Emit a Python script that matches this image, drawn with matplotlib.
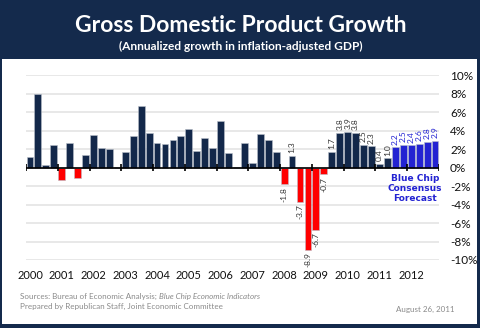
import matplotlib.pyplot as plt
from matplotlib.patches import Rectangle
import numpy as np

plt.rcParams['font.family'] = ['Lato', 'DejaVu Sans']

# quarterly real GDP growth, annualized (%), 2000Q1 - 2011Q2
actual = [1.1, 8.0, 0.3, 2.4,
          -1.3, 2.7, -1.1, 1.4,
          3.5, 2.1, 2.0, 0.1,
          1.7, 3.4, 6.7, 3.7,
          2.7, 2.6, 3.0, 3.4,
          4.2, 1.8, 3.2, 2.1,
          5.1, 1.6, 0.1, 2.7,
          0.5, 3.6, 3.0, 1.7,
          -1.8, 1.3, -3.7, -8.9,
          -6.7, -0.7, 1.7, 3.8,
          3.9, 3.8, 2.5, 2.3,
          0.4, 1.0]
# Blue Chip consensus, 2011Q3 - 2012Q4
forecast = [2.2, 2.5, 2.4, 2.6, 2.8, 2.9]
years = [str(y) for y in range(2000, 2013)]
first_labeled = 32   # values printed from 2008Q1 on

navy = '#13284a'
red = '#ff0000'
blue = '#2323d2'

fig = plt.figure(figsize=(4.81, 3.28), dpi=100)
fig.patch.set_facecolor('#142a4c')
fig.patches.append(Rectangle((2/481, 4/328), 475/481, 265/328, transform=fig.transFigure,
                             facecolor='white', edgecolor='none', zorder=-1))

fig.text(0.5, 1-25/328, 'Gross Domestic Product Growth', color='white', ha='center', va='center',
         fontsize=16.5, fontweight='bold')
fig.text(0.5, 1-46/328, '(Annualized growth in inflation-adjusted GDP)', color='white', ha='center',
         va='center', fontsize=8.6, fontweight='bold')

ax = fig.add_axes([26/481, 68/328, 413/481, 184.7/328])
ax.set_facecolor('none')

vals = np.array(actual + forecast)
x = np.arange(len(vals)) + 0.5
colors = [red if v < 0 else navy for v in actual] + [blue]*len(forecast)
ax.bar(x, vals, width=0.86, color=colors, edgecolor='#b9bfc9', linewidth=0.4, zorder=3)

# value labels
for i in range(first_labeled, len(vals)):
    v = vals[i]
    c = blue if i >= len(actual) else '#333333'
    ax.annotate('%.1f' % v, (x[i], v), xytext=(0, 2 if v >= 0 else -2), textcoords='offset points',
                rotation=90, ha='center', va='bottom' if v >= 0 else 'top', fontsize=6, color=c,
                zorder=4)

ax.set_xlim(0, len(vals))
ax.set_ylim(-10, 10)
ax.set_yticks(np.arange(-10, 11, 2))
ax.set_yticklabels(['%d%%' % t for t in range(-10, 11, 2)])
ax.yaxis.tick_right()
ax.tick_params(axis='y', length=0, pad=8, labelsize=8.5, labelcolor='#111111')
ax.set_xticks(np.arange(0.5, len(vals), 4))
ax.set_xticklabels(years)
ax.tick_params(axis='x', length=0, pad=7, labelsize=8, labelcolor='#111111')
ax.grid(axis='y', color='#e4e4e4', lw=1.2, zorder=0)
for s in ax.spines.values():
    s.set_visible(False)

ax.axhline(0, color='black', lw=1.2, zorder=5)
ax.vlines(np.arange(0, len(vals) + 1, 4), -0.35, 0.35, color='black', lw=1.2, zorder=5)

ax.text(x[len(actual) + 3] - 0.5, -0.7, 'Blue Chip\nConsensus\nForecast', color=blue, ha='center',
        va='top', fontsize=6.5, fontweight='bold', linespacing=1.15, family='DejaVu Sans')

ft = dict(color='#8a8a8a', fontsize=5.8)
src = fig.text(20/481, 1-296/328, 'Sources: Bureau of Economic Analysis; ', va='center', **ft)
ax.annotate('Blue Chip Economic Indicators', xy=(1, 0.5), xycoords=src, va='center', style='italic', **ft)
fig.text(20/481, 1-306/328, 'Prepared by Republican Staff, Joint Economic Committee', va='center', **ft)
fig.text(455/481, 1-309/328, 'August 26, 2011', va='center', ha='right', **ft)

fig.savefig('out.png', dpi=100, facecolor=fig.get_facecolor())
